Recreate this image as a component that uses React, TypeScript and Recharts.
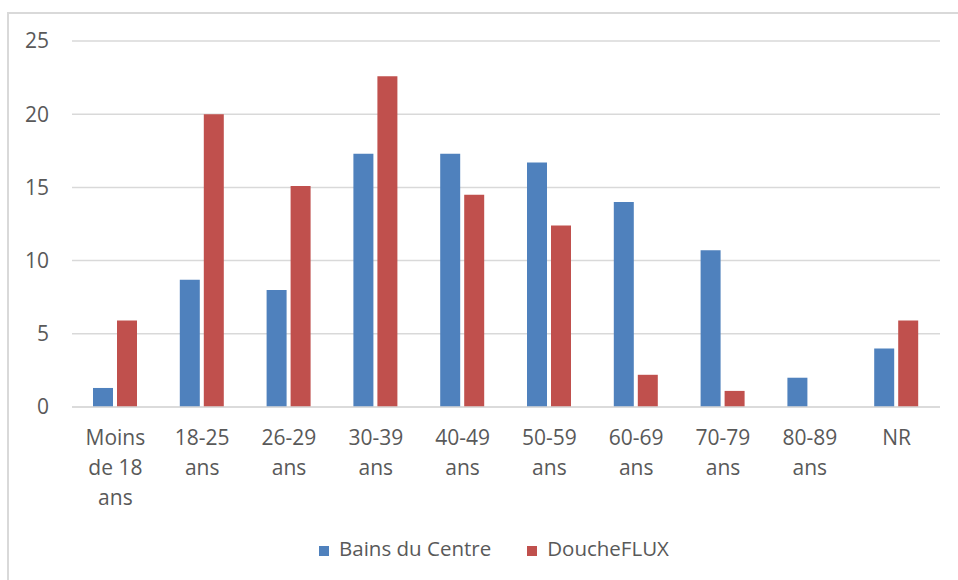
import React from 'react';
import { BarChart, Bar, XAxis, YAxis, CartesianGrid, Legend } from 'recharts';

const categories = [
  'Moins de 18 ans',
  '18-25 ans',
  '26-29 ans',
  '30-39 ans',
  '40-49 ans',
  '50-59 ans',
  '60-69 ans',
  '70-79 ans',
  '80-89 ans',
  'NR',
];
const bainsDuCentre = [1.3, 8.7, 8.0, 17.3, 17.3, 16.7, 14.0, 10.7, 2.0, 4.0];
const doucheFlux = [5.9, 20.0, 15.1, 22.6, 14.5, 12.4, 2.2, 1.1, 0, 5.9];
const yTicks = [0, 5, 10, 15, 20, 25];

const data = categories.map((name, i) => ({
  name,
  bains: bainsDuCentre[i],
  douche: doucheFlux[i],
}));

const FONT = '"Open Sans", "Noto Sans", sans-serif';
const TEXT = '#595959';

// greedy wrap, like excel does on narrow categories
function wrap(label: string, max = 6) {
  const lines: string[] = [];
  let cur = '';
  for (const w of label.split(' ')) {
    const next = cur ? cur + ' ' + w : w;
    if (next.length > max && cur) {
      lines.push(cur);
      cur = w;
    } else {
      cur = next;
    }
  }
  if (cur) lines.push(cur);
  return lines;
}

const CategoryTick = (props: any) => {
  const { x, y, payload } = props;
  const lines = wrap(payload.value);
  return (
    <text x={x} y={y} textAnchor="middle" fill={TEXT} fontSize={21} fontFamily={FONT}>
      {lines.map((l, i) => (
        <tspan key={i} x={x} dy={30}>
          {l}
        </tspan>
      ))}
    </text>
  );
};

export default function App() {
  return (
    <div style={{ position: 'absolute', left: 0, top: 0, width: 958, height: 580, background: '#fff' }}>
      <div
        style={{
          position: 'absolute',
          left: 7,
          top: 12,
          right: 0,
          bottom: 0,
          borderTop: '2px solid #d9d9d9',
          borderLeft: '2px solid #d9d9d9',
        }}
      />
      <div style={{ position: 'absolute', left: 0, top: 0 }}>
        <BarChart
          width={958}
          height={580}
          data={data}
          margin={{ top: 41, right: 18, left: 22, bottom: 35 }}
          barSize={20}
          barGap={4}
        >
          <CartesianGrid vertical={false} stroke="#d9d9d9" strokeWidth={1.5} />
          <XAxis
            dataKey="name"
            axisLine={{ stroke: '#d9d9d9', strokeWidth: 1.5 }}
            tickLine={false}
            interval={0}
            height={110}
            tick={<CategoryTick />}
          />
          <YAxis
            domain={[0, 25]}
            ticks={yTicks}
            width={50}
            axisLine={false}
            tickLine={false}
            tickSize={0}
            tickMargin={23}
            tick={{ fill: TEXT, fontSize: 21, fontFamily: FONT }}
          />
          <Legend
            verticalAlign="bottom"
            iconType="square"
            iconSize={10}
            wrapperStyle={{ fontFamily: FONT, fontSize: 20.5, color: TEXT, bottom: 18, left: 53 }}
            formatter={(v) => <span style={{ color: TEXT, paddingLeft: 6, marginRight: 26 }}>{v}</span>}
          />
          <Bar dataKey="bains" name="Bains du Centre" fill="#4F81BD" isAnimationActive={false} />
          <Bar dataKey="douche" name="DoucheFLUX" fill="#C0504D" isAnimationActive={false} />
        </BarChart>
      </div>
    </div>
  );
}
